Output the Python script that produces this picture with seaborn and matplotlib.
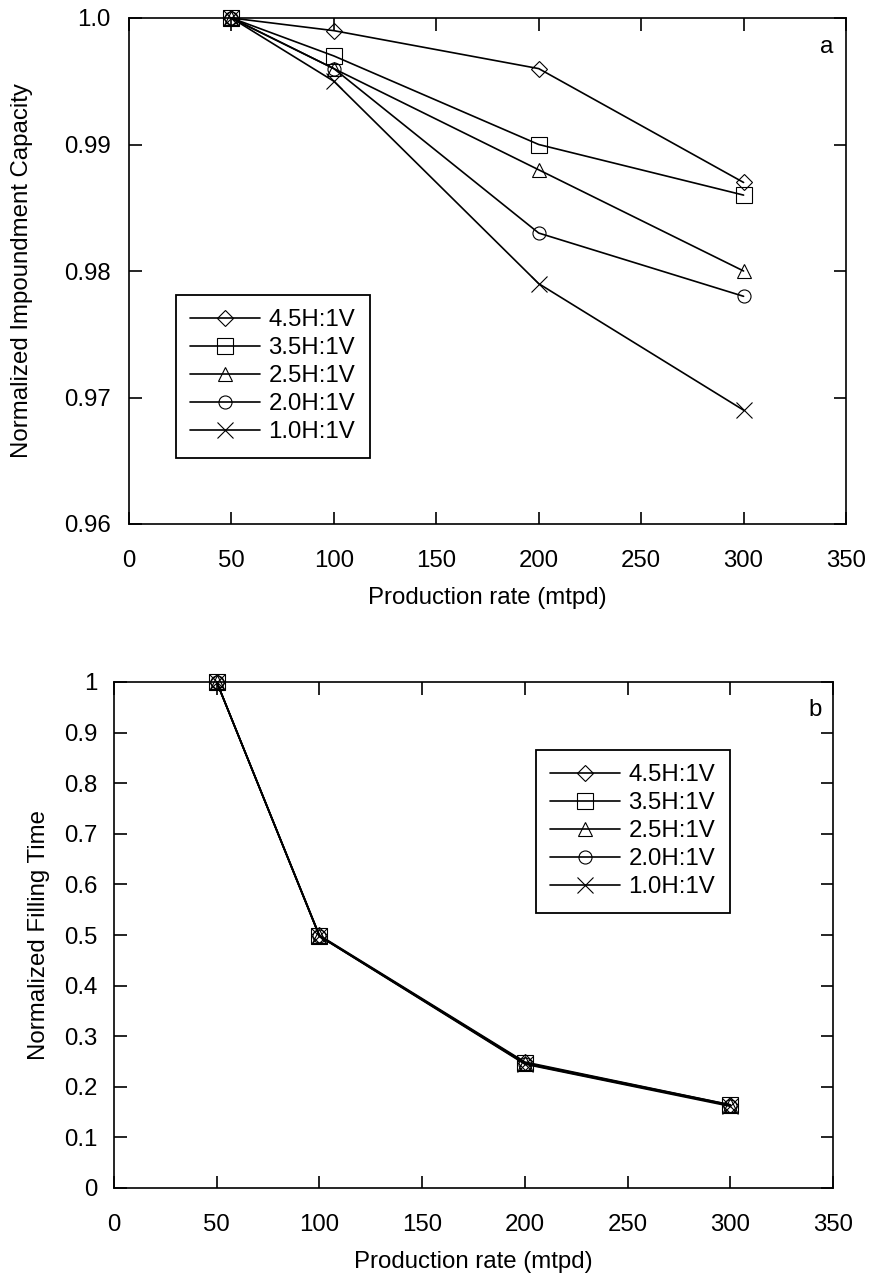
import matplotlib
matplotlib.use("Agg")
import matplotlib.pyplot as plt
import seaborn as sns
import numpy as np

# ---------------- data ----------------
rates = [50, 100, 200, 300]
labels = ["4.5H:1V", "3.5H:1V", "2.5H:1V", "2.0H:1V", "1.0H:1V"]

cap_45 = [1.000, 0.999, 0.996, 0.987]
cap_35 = [1.000, 0.997, 0.990, 0.986]
cap_25 = [1.000, 0.996, 0.988, 0.980]
cap_20 = [1.000, 0.996, 0.983, 0.978]
cap_10 = [1.000, 0.995, 0.979, 0.969]

time_45 = [1.000, 0.4995, 0.249, 0.1645]
time_35 = [1.000, 0.4985, 0.2475, 0.1643]
time_25 = [1.000, 0.498, 0.247, 0.1633]
time_20 = [1.000, 0.498, 0.2458, 0.163]
time_10 = [1.000, 0.4975, 0.2448, 0.1615]

cap_series = [cap_45, cap_35, cap_25, cap_20, cap_10]
time_series = [time_45, time_35, time_25, time_20, time_10]

x_ticks = [0, 50, 100, 150, 200, 250, 300, 350]
y_ticks_a = [0.96, 0.97, 0.98, 0.99, 1.0]
y_ticklabels_a = ["0.96", "0.97", "0.98", "0.99", "1.0"]
y_ticks_b = [0, 0.1, 0.2, 0.3, 0.4, 0.5, 0.6, 0.7, 0.8, 0.9, 1]
y_ticklabels_b = ["0", "0.1", "0.2", "0.3", "0.4", "0.5", "0.6", "0.7", "0.8", "0.9", "1"]

# ---------------- styling ----------------
sns.set_theme(style="white")
plt.rcParams["font.family"] = ["Liberation Sans", "DejaVu Sans"]
FS = 17.3

markers = ["D", "s", "^", "o", "x"]
msizes = [7.8, 11.5, 10.0, 9.4, 11.0]

W, H = 871, 1277
fig = plt.figure(figsize=(W / 100, H / 100), dpi=100)

ax_a = fig.add_axes([129 / W, 1 - 524 / H, 717 / W, 506 / H])
ax_b = fig.add_axes([114 / W, 1 - 1188 / H, 719 / W, 506 / H])


def draw(ax, series):
    for ys, lab, mk, ms in zip(series, labels, markers, msizes):
        sns.lineplot(x=rates, y=ys, ax=ax, color="black", linewidth=1.2,
                     marker=mk, markersize=ms, markerfacecolor="none",
                     markeredgecolor="black", markeredgewidth=0.8,
                     label=lab, clip_on=False, zorder=3)


def style(ax, yticks, ylabels, ylim, ylab, ylab_x, xtick_pad, ytick_pad):
    ax.set_xlim(0, 350)
    ax.set_ylim(*ylim)
    ax.set_xticks(x_ticks)
    ax.set_xticklabels([str(t) for t in x_ticks])
    ax.set_yticks(yticks)
    ax.set_yticklabels(ylabels)
    ax.tick_params(axis="both", which="major", direction="in", length=9,
                   width=1.2, color="black", labelsize=FS, labelcolor="black",
                   top=True, right=True, bottom=True, left=True)
    ax.tick_params(axis="x", pad=xtick_pad)
    ax.tick_params(axis="y", pad=ytick_pad)
    for sp in ax.spines.values():
        sp.set_visible(True)
        sp.set_color("black")
        sp.set_linewidth(1.2)
    ax.set_xlabel("Production rate (mtpd)", fontsize=FS, color="black")
    ax.set_ylabel(ylab, fontsize=FS, color="black")
    ax.xaxis.set_label_coords(0.5, -0.124)
    ax.yaxis.set_label_coords(ylab_x, 0.5)
    ax.grid(False)


draw(ax_a, cap_series)
style(ax_a, y_ticks_a, y_ticklabels_a, (0.96, 1.0),
      "Normalized Impoundment Capacity", -0.134, 19, 13)
leg_a = ax_a.legend(loc="upper left", bbox_to_anchor=(0.0656, 0.4526),
                    borderaxespad=0, fontsize=FS, frameon=True, fancybox=False,
                    handlelength=2.9, handletextpad=0.35, labelspacing=0.25,
                    borderpad=0.6)
ax_a.text(0.983, 0.943, "a", transform=ax_a.transAxes, fontsize=FS,
          ha="right", va="center", color="black")

draw(ax_b, time_series)
style(ax_b, y_ticks_b, y_ticklabels_b, (0, 1),
      "Normalized Filling Time", -0.089, 19, 12)
leg_b = ax_b.legend(loc="upper left", bbox_to_anchor=(0.587, 0.8656),
                    borderaxespad=0, fontsize=FS, frameon=True, fancybox=False,
                    handlelength=2.9, handletextpad=0.35, labelspacing=0.25,
                    borderpad=0.6)
ax_b.text(0.985, 0.945, "b", transform=ax_b.transAxes, fontsize=FS,
          ha="right", va="center", color="black")

for leg in (leg_a, leg_b):
    fr = leg.get_frame()
    fr.set_edgecolor("black")
    fr.set_linewidth(1.3)
    fr.set_facecolor("white")
    fr.set_alpha(1)
    for t in leg.get_texts():
        t.set_color("black")

fig.savefig("out.png", dpi=100, facecolor="white")
